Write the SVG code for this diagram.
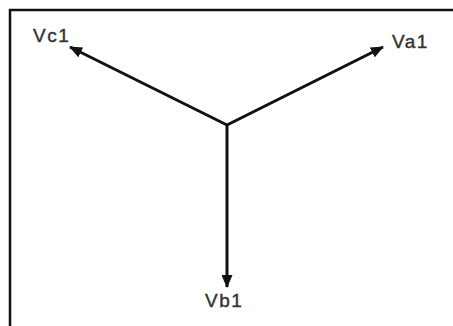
<svg xmlns="http://www.w3.org/2000/svg" width="453" height="326" viewBox="0 0 453 326">
<style>
.lbl{font-family:"Liberation Sans",Arial,sans-serif;font-size:19px;fill:#333;stroke:#333;stroke-width:0.4;letter-spacing:1.5px}
.vec{stroke:#111;stroke-width:3;fill:none}
</style>
<defs>
<marker id="ah" viewBox="0 0 13 11" refX="12" refY="5.5" markerWidth="13" markerHeight="11" markerUnits="userSpaceOnUse" orient="auto">
<path d="M0,0 L13,5.5 L0,11 Z" fill="#111"/>
</marker>
</defs>
<rect width="453" height="326" fill="#fff"/>
<path d="M10,326 V10 H453" fill="none" stroke="#111" stroke-width="2.5"/>
<g id="connectors">
<line class="vec" x1="227" y1="125" x2="227" y2="287" marker-end="url(#ah)"/>
<line class="vec" x1="227" y1="125" x2="383" y2="47" marker-end="url(#ah)"/>
<line class="vec" x1="227" y1="125" x2="70" y2="47" marker-end="url(#ah)"/>
</g>
<g id="Va1"><text class="lbl" x="392" y="48">Va1</text></g>
<g id="Vb1"><text class="lbl" x="205" y="307">Vb1</text></g>
<g id="Vc1"><text class="lbl" x="33" y="42">Vc1</text></g>
</svg>
